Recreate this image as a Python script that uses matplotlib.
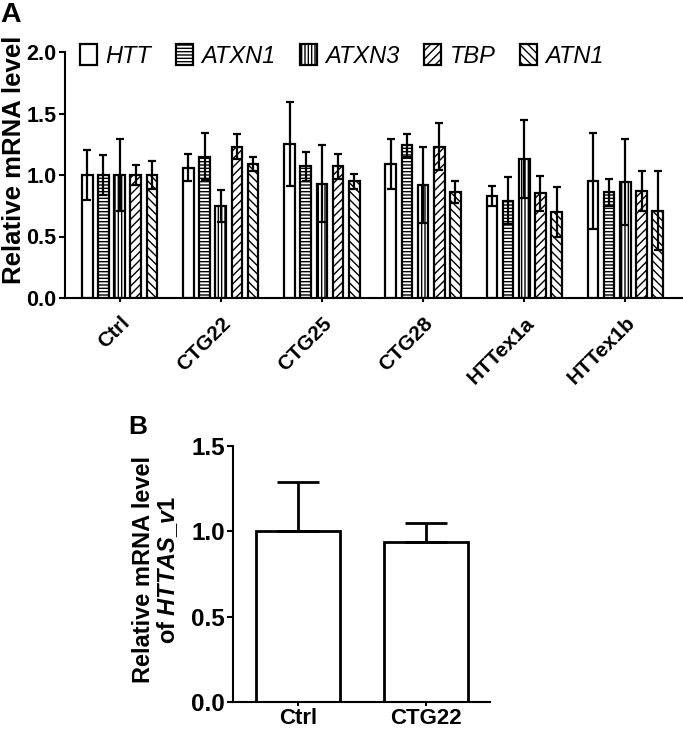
import numpy as np
import matplotlib
matplotlib.use('Agg')
import matplotlib.pyplot as plt
from matplotlib.ticker import FormatStrFormatter

plt.rcParams['font.family'] = ['Liberation Sans', 'DejaVu Sans']
plt.rcParams['font.weight'] = 'bold'
plt.rcParams['mathtext.fontset'] = 'custom'
plt.rcParams['mathtext.rm'] = 'Liberation Sans:bold'
plt.rcParams['mathtext.it'] = 'Liberation Sans:bold:italic'
plt.rcParams['hatch.linewidth'] = 1.0

# panel A data
groups = ['Ctrl', 'CTG22', 'CTG25', 'CTG28', 'HTTex1a', 'HTTex1b']
genes = ['HTT', 'ATXN1', 'ATXN3', 'TBP', 'ATN1']
htt_mean = [1.00, 1.06, 1.25, 1.09, 0.83, 0.95]
htt_err = [0.20, 0.11, 0.34, 0.20, 0.08, 0.39]
atxn1_mean = [1.00, 1.15, 1.07, 1.24, 0.79, 0.86]
atxn1_err = [0.16, 0.19, 0.12, 0.09, 0.19, 0.11]
atxn3_mean = [1.00, 0.75, 0.93, 0.92, 1.13, 0.94]
atxn3_err = [0.29, 0.13, 0.31, 0.31, 0.32, 0.35]
tbp_mean = [1.00, 1.23, 1.07, 1.23, 0.85, 0.87]
tbp_err = [0.08, 0.10, 0.10, 0.19, 0.14, 0.16]
atn1_mean = [1.00, 1.09, 0.95, 0.86, 0.70, 0.71]
atn1_err = [0.11, 0.06, 0.06, 0.09, 0.20, 0.32]
hatches = ['', '-----', '|||||', '////', '\\\\\\\\']

# panel B data
b_groups = ['Ctrl', 'CTG22']
b_mean = [1.00, 0.94]
b_err = [0.29, 0.11]

W, H = 683, 729
fig = plt.figure(figsize=(W / 100, H / 100), dpi=100)

def px_axes(x0, y0, x1, y1):
    return fig.add_axes([x0 / W, 1 - y1 / H, (x1 - x0) / W, (y1 - y0) / H])

# ---- panel A
axA = px_axes(65, 52, 682, 298)
means = [htt_mean, atxn1_mean, atxn3_mean, tbp_mean, atn1_mean]
errs = [htt_err, atxn1_err, atxn3_err, tbp_err, atn1_err]
x = np.arange(len(groups))
step = 0.16
for i, (m, e) in enumerate(zip(means, errs)):
    axA.bar(x + (i - 2) * step, m, width=0.105, yerr=e, color='white',
            edgecolor='black', linewidth=1.6, hatch=hatches[i], label=genes[i],
            error_kw=dict(ecolor='black', elinewidth=1.6, capsize=2.8,
                          capthick=1.6, zorder=3))
axA.set_xlim(-0.54, 5.56)
axA.set_ylim(0, 2.0)
axA.set_yticks([0, 0.5, 1.0, 1.5, 2.0])
axA.yaxis.set_major_formatter(FormatStrFormatter('%.1f'))
axA.set_xticks(x)
axA.set_xticklabels(groups, rotation=45, ha='right', va='top',
                    rotation_mode='anchor', fontsize=15, fontweight='bold')
for lab in axA.get_yticklabels():
    lab.set_fontsize(15.5)
    lab.set_fontweight('bold')
for s in ['top', 'right']:
    axA.spines[s].set_visible(False)
for s in ['left', 'bottom']:
    axA.spines[s].set_linewidth(1.5)
axA.tick_params(axis='y', length=4, width=1.5, pad=2)
axA.tick_params(axis='x', length=3, width=1.5, pad=8)
axA.set_ylabel('Relative mRNA level', fontsize=18.5, fontweight='bold')
axA.yaxis.set_label_coords(-0.063, 0.56)
leg = axA.legend(loc='upper left', bbox_to_anchor=(80 / W, 1 - 44 / H),
                 bbox_transform=fig.transFigure, ncol=5, frameon=False,
                 prop={'style': 'italic', 'weight': 'normal', 'size': 17},
                 handlelength=0.72, handleheight=1.0, handletextpad=0.35,
                 columnspacing=1.05, borderpad=0, borderaxespad=0)
fig.text(0, 1 - 2 / H, 'A', fontsize=20.5, fontweight='bold', va='top', ha='left')

# ---- panel B
axB = px_axes(233, 446, 490, 702)
xb = np.arange(len(b_groups))
axB.bar(xb, b_mean, width=0.66, color='white', edgecolor='black', linewidth=2,
        yerr=[np.zeros(len(b_err)), b_err],
        error_kw=dict(ecolor='black', elinewidth=2, capsize=15, capthick=2))
axB.set_xlim(-0.51, 1.5)
axB.set_ylim(0, 1.5)
axB.set_yticks([0, 0.5, 1.0, 1.5])
axB.yaxis.set_major_formatter(FormatStrFormatter('%.1f'))
axB.set_xticks(xb)
axB.set_xticklabels(b_groups, fontsize=16, fontweight='bold')
for lab in axB.get_yticklabels():
    lab.set_fontsize(17.5)
    lab.set_fontweight('bold')
for s in ['top', 'right']:
    axB.spines[s].set_visible(False)
for s in ['left', 'bottom']:
    axB.spines[s].set_linewidth(1.5)
axB.tick_params(axis='y', length=4, width=1.5, pad=2)
axB.tick_params(axis='x', length=3, width=1.5, pad=1)
axB.set_ylabel('Relative mRNA level\nof $\\mathit{HTTAS\\_v1}$', fontsize=17,
               fontweight='bold', linespacing=1.0)
axB.yaxis.set_label_coords(-0.205, 0.516)
fig.text(128 / W, 1 - 415 / H, 'B', fontsize=19, fontweight='bold', va='top', ha='left')

fig.savefig('out.png', dpi=100)
